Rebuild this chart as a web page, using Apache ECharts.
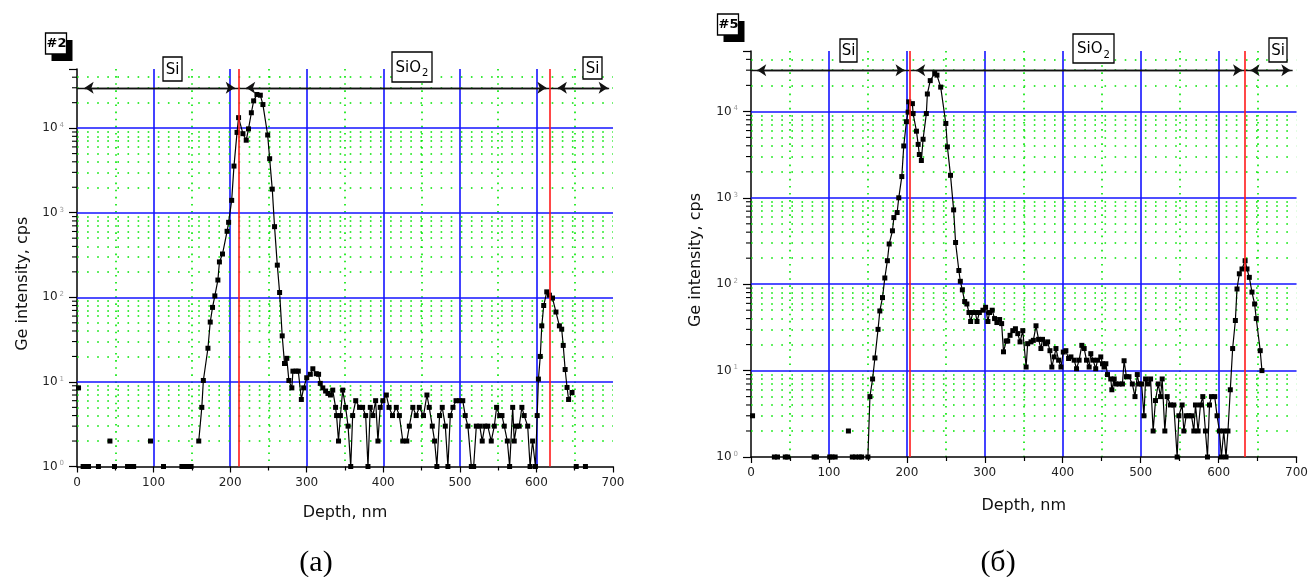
<!DOCTYPE html>
<html><head><meta charset="utf-8">
<script src="https://cdn.jsdelivr.net/npm/echarts@6/dist/echarts.min.js"></script>
<style>html,body{margin:0;padding:0;background:#fff}#c{width:1311px;height:577px}</style>
</head><body><div id="c"></div>
<script>
// ---------- DATA ----------
// Ge depth profiles: [depth nm, intensity cps]; null = gap (zero counts)
const profileA = [
 [2,8.5], null, [8,1],[12,1],[15,1], null, [28,1], null, [43,2], null, [49,1], null,
 [66,1],[70,1],[74,1], null, [96,2], null, [113,1], null, [137,1],[141,1],[145,1],[149,1], null,
 [159,2],[163,5],[165,10.4],[171,25],[174,51],[177,76],[180,104],[184,160],[186,262],[190,325],
 [196,603],[198,770],[202,1400],[205,3560],[209,8900],[211,13300],[216.7,8600],[221,7200],[224,9800],
 [227.7,15200],[230.7,21000],[235,25000],[239.4,24500],[242.8,19000],[249,8300],[251.6,4350],[255,1900],
 [258,684],[261.6,240],[264.6,114],[268,35],[271,16.5],[274,19],[276.7,10.4],[280.6,8.5],[282,13.4],
 [286,13.4],[289,13.4],[293,6.2],[296,8.5],[300,11.2],[304.7,12.3],[308,14.3],[312.5,12.5],[315.5,12.3],
 [317.7,9.6],[321,8.5],[324.7,7.8],[327.7,7.3],[331,7],[334,8],[337.7,5],[339,4],[341.5,2],[344,4],
 [347,8],[350.8,5],[354,3],[357.5,1],[360,4],[364,6],[369,5],[373,5],[377,4],[380,1],[383,5],[386.5,4],
 [390,6],[393,2],[396,5],[399.5,6],[404,7],[407.5,5],[412,4],[417,5],[421,4],[425.5,2],[430.7,2],[434,3],
 [438.6,5],[443,4],[447,5],[452.5,4],[457,7],[460,5],[464,3],[467,2],[470,1],[473.5,4],[477,5],[481,3],
 [484.4,1],[487.5,4],[491,5],[495,6],[499.5,6],[503.8,6],[507,4],[510.5,3],[515,1],[518,1],[521.5,3],
 [526,3],[529.2,2],[532.5,3],[536.5,3],[541,2],[545,3],[548,5],[552,4],[555,4],[558,3],[562,2],[565,1],
 [569,5],[571,2],[574,3],[577.5,3],[581,5],[584,4],[588.6,3],[591.7,1],[595,2],[598.7,1],[601,4],
 [602.6,10.8],[605,20],[607,46],[609.5,80],[613.5,116],[617,106],[621,98],[625.5,67],[630,46],[633,42],
 [635,27],[637.5,14],[640,8.6],[642,6.2],[646.5,7.5], null, [652,1], null, [664,1]
];
const profileB = [
 [2,3], null, [30,1],[34,1], null, [44,1],[47,1], null, [81,1],[84,1], null, [101,1],[104,1],[108,1], null,
 [125,2], null, [130,1],[134,1], null, [139,1],[142,1], null,
 [150,1],[152.6,5],[156,8],[159,14],[163,30],[165.3,49],[168.7,70],[171.7,118],[175,187],[177.3,292],
 [181.5,415],[183.3,590],[187.5,675],[189.6,1000],[193.5,1760],[196,3980],[199.4,7600],[201.6,9800],
 [202.4,12900],[207.1,12300],[208,9440],[212.3,5900],[214.5,4150],[216,3170],[218.6,2700],[220.8,4760],
 [225,9440],[226.3,15900],[230,22700],[235.7,27500],[238.6,26300],[243.4,19100],[250,7250],[252,3880],
 [256,1820],[260,725],[262.5,304],[266.7,144],[268.6,108],[271.2,86],[274.2,63],[277,59],[279.7,47],
 [281.8,37],[284.7,47],[288,47],[290,37],[293,47],[297.6,50],[301,54],[304,37],[306,47],[309.5,50],
 [312.5,40],[315.5,36],[319,39],[321.6,35],[324,16.5],[327.5,22],[329.4,22],[332.4,25.6],[335.9,29],
 [339.3,30.5],[342.3,26.8],[345.2,21.5],[348.7,29],[353,11],[355,20.5],[359.3,21.5],[362.3,22.4],
 [365.7,33],[369,23],[372,18],[374,23],[377.6,20.5],[380.6,21.5],[383.6,17],[386,11],[389,14.4],
 [391.3,18],[394.7,13.2],[397.7,11],[400.7,16.4],[404,17],[407.5,13.8],[410.5,14.4],[414.7,13.2],
 [417.7,10.5],[421,13.2],[424.5,19.6],[427.5,18],[430.5,13.2],[433.9,11],[436,15.7],[439,13.2],
 [442.3,10.5],[444.6,13.2],[448.8,14.4],[451,12],[453,11],[455.3,12],[457.4,9],[461.6,8],[463,6],
 [466,8],[468,7],[472.3,7],[476.6,7],[478.7,13],[481.7,8.5],[485,8.5],[489.3,7],[492.7,5],[495.7,9],
 [497.8,7],[501.2,7],[504.2,3],[506.3,8],[509.7,7],[512.7,8],[516,2],[519,4.5],[522.5,7],[525.5,5],
 [527.6,8],[531,2],[534,5],[538.3,4],[542.5,4],[546.8,1],[549,3],[553.2,4],[555.4,2],[558.4,3],
 [561.8,3],[565.2,3],[568.2,2],[570.3,4],[573.7,2],[576.7,4],[579.7,5],[583.1,2],[585.7,1],[588.3,4],
 [590.8,5],[595,5],[598,3],[601,2],[603.6,1],[606.6,2],[609.5,1],[612,2],[615,6],[618,18],[621.5,38],
 [623.6,88],[626.6,132],[630,150],[634,187],[636.4,150],[639.4,120],[642.8,81],[646.2,59],[648.3,40],
 [653.4,17],[655.6,10]
];
const interfacesA = [211, 618];        // red lines, nm
const interfacesB = [204, 634];
const layersA = [[10,206],[221,613],[628,693]];  // arrow spans, nm
const layersB = [[8,197],[212,630],[641,692]];
const layerNames = ['Si', 'SiO{s|2}', 'Si'];
const sampleNames = ['#2', '#5'];
const panelLabels = ['(а)', '(б)'];
const xTitle = 'Depth, nm';
const yTitle = 'Ge intensity, cps';
const arrowLevel = 30000;
const yMax = 50000;

// ---------- LAYOUT ----------
const grids = [
  {left: 77, top: 69, width: 536, height: 397.5},
  {left: 751, top: 51, width: 547, height: 406}
];
const decades = [1, 10, 100, 1000, 10000];
const minorVals = [];
decades.forEach(d => { for (let m = 2; m <= 9; m++) { if (m * d < yMax) minorVals.push(m * d); } });

const FONT = 'DejaVu Sans';
const BLUE = '#1414ff', GREEN = '#00e600', RED = '#ff1a1a';

function xAxisFor(i, gap) {
  return {
    gridIndex: i, type: 'value', min: 0, max: 700, interval: 100,
    name: xTitle, nameLocation: 'middle', nameGap: gap,
    nameTextStyle: {fontFamily: FONT, fontSize: 16, color: '#111'},
    axisLine: {show: true, onZero: false, lineStyle: {color: '#000', width: 1.5}},
    axisTick: {show: true, length: 6, lineStyle: {color: '#000', width: 1.2}},
    minorTick: {show: true, splitNumber: 2, length: 4, lineStyle: {color: '#000', width: 1.2}},
    axisLabel: {fontFamily: FONT, fontSize: 12, color: '#222', margin: 10},
    splitLine: {show: true, showMinLine: false, showMaxLine: false, lineStyle: {color: BLUE, width: 1.6}},
    minorSplitLine: {show: true, lineStyle: {color: GREEN, width: 1.6, type: [1.6, 5.5]}}
  };
}
function yAxisFor(i, gap, pad) {
  return {
    gridIndex: i, type: 'log', logBase: 10, min: 1, max: yMax,
    name: yTitle, nameLocation: 'middle', nameGap: gap,
    nameTextStyle: {fontFamily: FONT, fontSize: 16, color: '#111', padding: pad},
    axisLine: {show: true, onZero: false, lineStyle: {color: '#000', width: 1.5}},
    axisTick: {show: true, length: 8, lineStyle: {color: '#000', width: 1.2}},
    axisLabel: {
      fontFamily: FONT, fontSize: 12, color: '#222', margin: 13,
      formatter: v => {
        const e = Math.round(Math.log10(v));
        if (Math.abs(Math.pow(10, e) - v) > 1e-6 * v) return '';
        return '10{e|' + e + '}';
      },
      rich: {e: {fontFamily: FONT, fontSize: 7, color: '#999', verticalAlign: 'top', padding: [0, 0, 6, 2]}}
    },
    splitLine: {show: false}
  };
}

function panelSeries(i, profile, reds, layers) {
  const data = profile.map(p => p ? p : [NaN, NaN]);
  const seg = (a, b) => [{coord: [a, arrowLevel]}, {coord: [b, arrowLevel]}];
  return [
    { // grid: blue decades + green minor rows
      type: 'line', xAxisIndex: i, yAxisIndex: i, data: [], silent: true, z: 1,
      markLine: {
        z: 1, silent: true, symbol: 'none', label: {show: false}, animation: false,
        data: decades.slice(1).map(v => ({yAxis: v, lineStyle: {color: BLUE, width: 1.6, type: 'solid'}}))
          .concat(minorVals.map(v => ({yAxis: v, lineStyle: {color: GREEN, width: 1.6, type: [1.6, 8.5]}})))
      }
    },
    { // minor y ticks outside the axis
      type: 'custom', xAxisIndex: i, yAxisIndex: i, coordinateSystem: 'cartesian2d',
      data: minorVals.map(v => [0, v]), silent: true, clip: false, z: 4,
      renderItem: (params, api) => {
        const p = api.coord([api.value(0), api.value(1)]);
        return {type: 'line', shape: {x1: p[0] - 5, y1: p[1], x2: p[0], y2: p[1]},
                style: {stroke: '#000', lineWidth: 1.1}};
      }
    },
    { // profile
      type: 'line', xAxisIndex: i, yAxisIndex: i, data: data, connectNulls: false,
      symbol: 'rect', symbolSize: 5, showSymbol: true, z: 3,
      itemStyle: {color: '#000'}, lineStyle: {color: '#000', width: 1.2}, animation: false,
      markLine: {
        z: 4, silent: true, label: {show: false}, animation: false,
        symbol: ['arrow', 'arrow'], symbolSize: 9,
        data: [
          [{coord: [0, arrowLevel], symbol: 'none'}, {coord: [695, arrowLevel], symbol: 'none'}],
          seg(layers[0][0], layers[0][1]), seg(layers[1][0], layers[1][1]), seg(layers[2][0], layers[2][1])
        ].map(d => { d[0].lineStyle = {color: '#111', width: 1.3, type: 'solid'}; return d; })
         .concat(reds.map(r => [
           {coord: [r, 1], symbol: 'none', lineStyle: {color: RED, width: 1.6, type: 'solid'}},
           {coord: [r, yMax], symbol: 'none'}]))
      }
    }
  ];
}

// annotation boxes
function boxText(x, y, w, h, txt, size) {
  return [
    {type: 'rect', shape: {x: x, y: y, width: w, height: h}, style: {fill: '#fff', stroke: '#000', lineWidth: 1.3}, z: 10},
    {type: 'text', x: x + w / 2, y: y + h / 2 + 1, z: 11,
     style: {text: txt, align: 'center', verticalAlign: 'middle', font: size + 'px "' + FONT + '"', fill: '#000',
       rich: {s: {font: '10px "' + FONT + '"', fill: '#000', padding: [11, 0, 0, 1]}}}}
  ];
}
function tagBox(x, y, txt) {
  return [
    {type: 'rect', shape: {x: x + 6, y: y + 7, width: 21, height: 21}, style: {fill: '#000'}, z: 10},
    {type: 'rect', shape: {x: x, y: y, width: 21, height: 21}, style: {fill: '#fff', stroke: '#000', lineWidth: 1.3}, z: 11},
    {type: 'text', x: x + 11, y: y + 11, z: 12,
     style: {text: txt, align: 'center', verticalAlign: 'middle', font: 'bold 13px "' + FONT + '"', fill: '#000'}}
  ];
}
const graphics = [].concat(
  tagBox(45.5, 33, sampleNames[0]),
  tagBox(717.5, 14, sampleNames[1]),
  boxText(163, 57, 19, 24, layerNames[0], 15),
  boxText(392, 52, 40, 30, layerNames[1], 15),
  boxText(583, 57, 19, 22, layerNames[2], 15),
  boxText(840, 39, 17, 23, layerNames[0], 15),
  boxText(1073, 34, 41, 29, layerNames[1], 15),
  boxText(1269, 38, 18, 24, layerNames[2], 15),
  [
    {type: 'text', x: 316, y: 563, style: {text: panelLabels[0], align: 'center', verticalAlign: 'middle', font: '30px "Liberation Serif"', fill: '#000'}},
    {type: 'text', x: 998, y: 563, style: {text: panelLabels[1], align: 'center', verticalAlign: 'middle', font: '30px "Liberation Serif"', fill: '#000'}}
  ]
);

const chart = echarts.init(document.getElementById('c'), null, {renderer: 'canvas'});
chart.setOption({
  animation: false,
  backgroundColor: '#fff',
  grid: grids,
  xAxis: [xAxisFor(0, 38), xAxisFor(1, 41)],
  yAxis: [yAxisFor(0, 46, [0, 32, 0, 0]), yAxisFor(1, 47, [0, 12, 0, 0])],
  series: panelSeries(0, profileA, interfacesA, layersA).concat(panelSeries(1, profileB, interfacesB, layersB)),
  graphic: graphics
});
</script>
</body></html>
